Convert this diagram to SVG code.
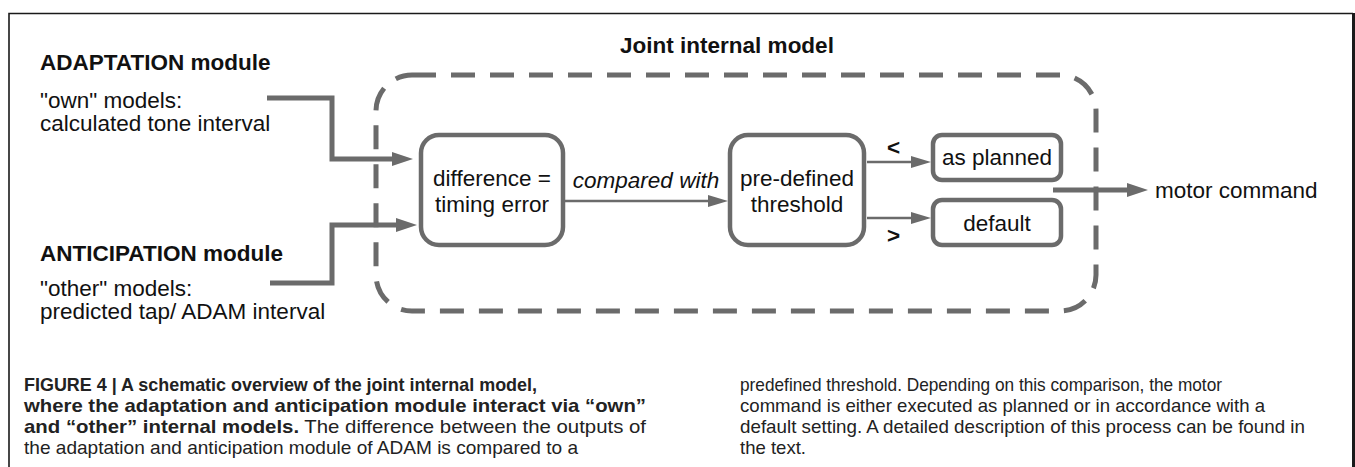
<svg xmlns="http://www.w3.org/2000/svg" width="1355" height="467" viewBox="0 0 1355 467">
<defs>
<style>
.t{font-family:"Liberation Sans",Arial,sans-serif;font-size:22.5px;fill:#111}
.b{font-weight:bold}
.i{font-style:italic}
.c{text-anchor:middle}
.box{fill:#fff;stroke:#6b6b6b;stroke-width:4.5}
.thick{fill:none;stroke:#6b6b6b;stroke-width:5}
.thin{fill:none;stroke:#6b6b6b;stroke-width:2.5}
.cap{font-family:"Liberation Sans",Arial,sans-serif;font-size:19px;fill:#222}
</style>
<marker id="ah" markerUnits="userSpaceOnUse" markerWidth="21" markerHeight="14" refX="0" refY="7" orient="auto" viewBox="0 0 21 14">
<path d="M0,0 L21,7 L0,14 z" fill="#6b6b6b"/>
</marker>
<marker id="ahs" markerUnits="userSpaceOnUse" markerWidth="20" markerHeight="12" refX="0" refY="6" orient="auto" viewBox="0 0 20 12">
<path d="M0,0 L20,6 L0,12 z" fill="#6b6b6b"/>
</marker>
</defs>
<rect width="1355" height="467" fill="#fff"/>
<g id="frame" fill="none" stroke="#1a1a1a">
<path d="M9,467 V13.5 H1353" stroke-width="1.6"/>
<path d="M1353.5,13 V467" stroke-width="3"/>
</g>
<g id="joint-internal-model">
<rect x="376" y="75" width="720" height="236" rx="36" fill="none" stroke="#6b6b6b" stroke-width="5" stroke-dasharray="24 15"/>
<text class="t b c" x="727" y="53" style="font-size:22.5px">Joint internal model</text>
</g>
<g id="adaptation">
<text class="t b" x="40" y="70">ADAPTATION module</text>
<text class="t" x="40" y="108">"own" models:</text>
<text class="t" x="40" y="131">calculated tone interval</text>
</g>
<g id="anticipation">
<text class="t b" x="40" y="261">ANTICIPATION module</text>
<text class="t" x="40" y="296">"other" models:</text>
<text class="t" x="40" y="319">predicted tap/ ADAM interval</text>
</g>
<g id="connectors">
<path class="thick" d="M267,98 H332 V159 H392" marker-end="url(#ah)"/>
<path class="thick" d="M270,283 H332 V225 H396" marker-end="url(#ah)"/>
<path class="thin" d="M565,201 H708" marker-end="url(#ahs)"/>
<path class="thin" d="M867,162 H911" marker-end="url(#ahs)"/>
<path class="thin" d="M867,218 H911" marker-end="url(#ahs)"/>
<path class="thick" d="M1053,190 H1127" marker-end="url(#ah)"/>
<text class="t i c" x="646" y="188">compared with</text>
<text class="t b" x="887" y="155">&lt;</text>
<text class="t b" x="887" y="243">&gt;</text>
</g>
<g id="difference">
<rect class="box" x="421" y="135" width="142" height="110" rx="18"/>
<text class="t c" x="492" y="186">difference =</text>
<text class="t c" x="492" y="212">timing error</text>
</g>
<g id="threshold">
<rect class="box" x="730" y="135" width="134" height="110" rx="18"/>
<text class="t c" x="797" y="186">pre-defined</text>
<text class="t c" x="797" y="212">threshold</text>
</g>
<g id="as-planned">
<rect class="box" x="933" y="135" width="128" height="45" rx="9"/>
<text class="t c" x="997" y="165">as planned</text>
</g>
<g id="default">
<rect class="box" x="933" y="200" width="128" height="45" rx="9"/>
<text class="t c" x="997" y="231">default</text>
</g>
<g id="motor-command">
<text class="t" x="1155" y="198">motor command</text>
</g>
<g id="caption">
<text class="cap" x="24" y="391" textLength="513" lengthAdjust="spacingAndGlyphs"><tspan font-weight="bold">FIGURE 4 | A schematic overview of the joint internal model,</tspan></text>
<text class="cap" x="24" y="412" textLength="622" lengthAdjust="spacingAndGlyphs"><tspan font-weight="bold">where the adaptation and anticipation module interact via “own”</tspan></text>
<text class="cap" x="24" y="433" textLength="622" lengthAdjust="spacingAndGlyphs"><tspan font-weight="bold">and “other” internal models.</tspan> The difference between the outputs of</text>
<text class="cap" x="24" y="454" textLength="554" lengthAdjust="spacingAndGlyphs">the adaptation and anticipation module of ADAM is compared to a</text>
<text class="cap" x="740" y="391" textLength="482" lengthAdjust="spacingAndGlyphs">predefined threshold. Depending on this comparison, the motor</text>
<text class="cap" x="740" y="412" textLength="525" lengthAdjust="spacingAndGlyphs">command is either executed as planned or in accordance with a</text>
<text class="cap" x="740" y="433" textLength="565" lengthAdjust="spacingAndGlyphs">default setting. A detailed description of this process can be found in</text>
<text class="cap" x="740" y="454" textLength="66" lengthAdjust="spacingAndGlyphs">the text.</text>
</g>
</svg>
